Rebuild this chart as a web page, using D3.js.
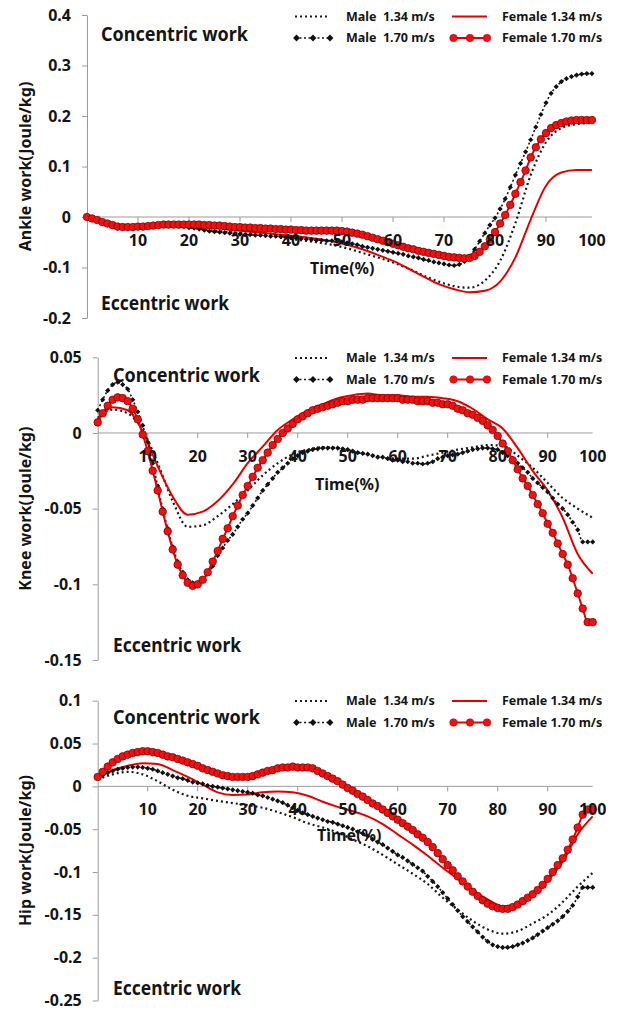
<!DOCTYPE html>
<html>
<head>
<meta charset="utf-8">
<script src="https://cdn.jsdelivr.net/npm/d3@7"></script>
<style>
    body { margin: 0; background: #fff; }
    text { font-family: "Noto Sans", "Open Sans", sans-serif; fill: #151515; }
</style>
</head>
<body>
<script>
const svgWidth = 617;
const svgHeight = 1010;

// categories: % of gait cycle (markers every 1 %, plain lines read every 3 %)
const time = d3.range(0, 100);
const timeCoarse = d3.range(0, 100, 3);

const xTickValues = [10, 20, 30, 40, 50, 60, 70, 80, 90];
const xTickLabels = [10, 20, 30, 40, 50, 60, 70, 80, 90, 100];

const seriesNames = ["Male  1.34 m/s", "Female 1.34 m/s", "Male  1.70 m/s", "Female 1.70 m/s"];

// ---------- ankle ----------
const ankleTicks = [0.4, 0.3, 0.2, 0.1, 0, -0.1, -0.2];
const ankleMale134 = [0, -0.009, -0.017, -0.019, -0.018, -0.018, -0.019, -0.022, -0.026, -0.029, -0.032, -0.035,
    -0.038, -0.042, -0.046, -0.050, -0.055, -0.062, -0.071, -0.080, -0.090, -0.102, -0.116, -0.128, -0.137,
    -0.140, -0.126, -0.087, -0.012, 0.083, 0.148, 0.176, 0.184, 0.186];
const ankleFemale134 = [0, -0.009, -0.017, -0.019, -0.017, -0.016, -0.017, -0.019, -0.021, -0.024, -0.027, -0.030,
    -0.033, -0.036, -0.039, -0.043, -0.048, -0.055, -0.064, -0.075, -0.087, -0.102, -0.118, -0.133, -0.143,
    -0.149, -0.146, -0.128, -0.080, -0.005, 0.062, 0.088, 0.093, 0.093];
const ankleMale170 = [
    0, -0.003, -0.006, -0.009, -0.012, -0.015, -0.017, -0.018, -0.019, -0.019,
    -0.019, -0.018, -0.018, -0.017, -0.017, -0.017, -0.017, -0.017, -0.018, -0.019,
    -0.021, -0.022, -0.024, -0.026, -0.028, -0.029, -0.030, -0.031, -0.032, -0.033,
    -0.034, -0.035, -0.035, -0.036, -0.036, -0.037, -0.038, -0.038, -0.039, -0.040,
    -0.041, -0.042, -0.043, -0.044, -0.045, -0.046, -0.046, -0.047, -0.047, -0.048,
    -0.049, -0.051, -0.053, -0.055, -0.058, -0.060, -0.062, -0.064, -0.066, -0.068,
    -0.070, -0.072, -0.074, -0.077, -0.079, -0.081, -0.084, -0.086, -0.089, -0.091,
    -0.093, -0.095, -0.096, -0.094, -0.088, -0.078, -0.064, -0.048, -0.032, -0.016,
    -0.002, 0.016, 0.036, 0.059, 0.083, 0.106, 0.129, 0.153, 0.178, 0.203,
    0.226, 0.245, 0.258, 0.268, 0.274, 0.278, 0.281, 0.283, 0.284, 0.284];
const ankleFemale170 = [
    0, -0.003, -0.006, -0.010, -0.013, -0.016, -0.019, -0.020, -0.020, -0.020,
    -0.019, -0.019, -0.018, -0.017, -0.016, -0.015, -0.015, -0.015, -0.015, -0.015,
    -0.015, -0.015, -0.015, -0.016, -0.016, -0.017, -0.017, -0.018, -0.019, -0.020,
    -0.020, -0.021, -0.021, -0.022, -0.022, -0.023, -0.023, -0.024, -0.024, -0.025,
    -0.025, -0.026, -0.026, -0.027, -0.027, -0.027, -0.027, -0.027, -0.027, -0.027,
    -0.028, -0.029, -0.031, -0.033, -0.035, -0.038, -0.041, -0.044, -0.047, -0.050,
    -0.053, -0.056, -0.059, -0.062, -0.064, -0.067, -0.069, -0.071, -0.073, -0.075,
    -0.077, -0.079, -0.080, -0.081, -0.082, -0.081, -0.077, -0.069, -0.058, -0.045,
    -0.030, -0.013, 0.004, 0.024, 0.046, 0.069, 0.092, 0.118, 0.138, 0.154,
    0.166, 0.176, 0.182, 0.186, 0.189, 0.191, 0.192, 0.192, 0.192, 0.192];

// ---------- knee ----------
const kneeTicks = [0.05, 0, -0.05, -0.1, -0.15];
const kneeMale134 = [0.010, 0.0155, 0.013, 0.002, -0.020, -0.045, -0.062, -0.061, -0.055, -0.047, -0.038, -0.028,
    -0.020, -0.014, -0.011, -0.0095, -0.010, -0.012, -0.014, -0.016, -0.017, -0.017, -0.015, -0.013, -0.011,
    -0.0095, -0.008, -0.0085, -0.015, -0.023, -0.033, -0.043, -0.050, -0.056];
const kneeFemale134 = [0.009, 0.017, 0.015, 0.001, -0.022, -0.042, -0.054, -0.052, -0.045, -0.034, -0.020, -0.009,
    0.002, 0.009, 0.015, 0.019, 0.023, 0.025, 0.026, 0.025, 0.025, 0.024, 0.024, 0.023, 0.021,
    0.016, 0.009, 0.003, -0.010, -0.025, -0.038, -0.056, -0.080, -0.093];
const kneeMale170 = [
    0.015, 0.022, 0.028, 0.032, 0.0335, 0.032, 0.029, 0.022, 0.014, 0.005,
    -0.006, -0.020, -0.035, -0.050, -0.063, -0.075, -0.085, -0.092, -0.097, -0.099,
    -0.099, -0.097, -0.093, -0.088, -0.081, -0.076, -0.071, -0.067, -0.062, -0.057,
    -0.053, -0.048, -0.043, -0.038, -0.034, -0.030, -0.026, -0.023, -0.020, -0.017,
    -0.015, -0.013, -0.012, -0.011, -0.0105, -0.010, -0.010, -0.010, -0.010, -0.0105,
    -0.011, -0.012, -0.013, -0.0135, -0.014, -0.015, -0.016, -0.016, -0.017, -0.018,
    -0.018, -0.019, -0.019, -0.020, -0.020, -0.0205, -0.020, -0.019, -0.017, -0.016,
    -0.015, -0.0145, -0.014, -0.013, -0.012, -0.011, -0.0105, -0.010, -0.010, -0.0105,
    -0.011, -0.013, -0.015, -0.017, -0.020, -0.023, -0.026, -0.030, -0.033, -0.036,
    -0.039, -0.043, -0.047, -0.050, -0.054, -0.059, -0.064, -0.072, -0.072, -0.072];
const kneeFemale170 = [
    0.007, 0.013, 0.018, 0.022, 0.0235, 0.023, 0.021, 0.016, 0.009, -0.001,
    -0.012, -0.025, -0.038, -0.052, -0.065, -0.077, -0.087, -0.094, -0.099, -0.101,
    -0.100, -0.097, -0.092, -0.085, -0.078, -0.070, -0.063, -0.055, -0.048, -0.041,
    -0.035, -0.029, -0.023, -0.018, -0.013, -0.008, -0.004, 0.000, 0.003, 0.006,
    0.009, 0.011, 0.013, 0.015, 0.016, 0.017, 0.018, 0.019, 0.020, 0.021,
    0.021, 0.022, 0.022, 0.022, 0.023, 0.023, 0.023, 0.023, 0.023, 0.023,
    0.023, 0.022, 0.022, 0.022, 0.021, 0.021, 0.021, 0.020, 0.020, 0.019,
    0.019, 0.018, 0.016, 0.015, 0.013, 0.012, 0.010, 0.008, 0.005, 0.002,
    -0.002, -0.007, -0.012, -0.018, -0.024, -0.030, -0.035, -0.041, -0.047, -0.053,
    -0.060, -0.066, -0.073, -0.080, -0.087, -0.096, -0.106, -0.116, -0.125, -0.125];

// ---------- hip ----------
const hipTicks = [0.1, 0.05, 0, -0.05, -0.1, -0.15, -0.2, -0.25];
const hipMale134 = [0.008, 0.014, 0.017, 0.014, 0.006, -0.004, -0.011, -0.014, -0.017, -0.0195, -0.022, -0.025,
    -0.030, -0.036, -0.043, -0.048, -0.054, -0.062, -0.070, -0.080, -0.091, -0.102, -0.114, -0.130, -0.144,
    -0.157, -0.167, -0.172, -0.169, -0.160, -0.150, -0.135, -0.117, -0.101];
const hipFemale134 = [0.010, 0.019, 0.024, 0.027, 0.026, 0.019, 0.011, 0.002, -0.007, -0.010, -0.0095, -0.007,
    -0.006, -0.007, -0.011, -0.018, -0.024, -0.029, -0.035, -0.044, -0.056, -0.068, -0.081, -0.095, -0.108,
    -0.121, -0.132, -0.140, -0.138, -0.127, -0.110, -0.088, -0.056, -0.035];
const hipMale170 = [
    0.010, 0.013, 0.016, 0.018, 0.020, 0.021, 0.022, 0.0225, 0.0225, 0.022,
    0.021, 0.020, 0.018, 0.016, 0.014, 0.012, 0.010, 0.009, 0.007, 0.005,
    0.004, 0.003, 0.001, 0.000, -0.001, -0.002, -0.003, -0.004, -0.005, -0.006,
    -0.007, -0.008, -0.010, -0.011, -0.013, -0.015, -0.017, -0.019, -0.022, -0.025,
    -0.028, -0.031, -0.033, -0.035, -0.037, -0.039, -0.041, -0.042, -0.044, -0.046,
    -0.048, -0.050, -0.053, -0.055, -0.058, -0.062, -0.065, -0.068, -0.072, -0.076,
    -0.080, -0.083, -0.087, -0.091, -0.095, -0.099, -0.105, -0.111, -0.117, -0.124,
    -0.131, -0.138, -0.145, -0.152, -0.158, -0.164, -0.170, -0.176, -0.181, -0.185,
    -0.187, -0.188, -0.188, -0.187, -0.185, -0.183, -0.180, -0.177, -0.173, -0.169,
    -0.165, -0.161, -0.157, -0.152, -0.146, -0.139, -0.129, -0.118, -0.118, -0.118];
const hipFemale170 = [
    0.011, 0.017, 0.023, 0.028, 0.032, 0.035, 0.037, 0.039, 0.040, 0.041,
    0.041, 0.040, 0.039, 0.037, 0.035, 0.034, 0.032, 0.030, 0.028, 0.026,
    0.024, 0.021, 0.019, 0.017, 0.015, 0.013, 0.012, 0.011, 0.011, 0.011,
    0.011, 0.012, 0.014, 0.016, 0.018, 0.019, 0.021, 0.022, 0.022, 0.023,
    0.022, 0.022, 0.022, 0.021, 0.018, 0.015, 0.012, 0.009, 0.006, 0.002,
    -0.002, -0.005, -0.009, -0.012, -0.016, -0.020, -0.023, -0.027, -0.031, -0.035,
    -0.039, -0.043, -0.047, -0.051, -0.056, -0.060, -0.065, -0.071, -0.078, -0.085,
    -0.092, -0.098, -0.105, -0.111, -0.117, -0.123, -0.128, -0.133, -0.137, -0.140,
    -0.142, -0.143, -0.143, -0.141, -0.138, -0.134, -0.130, -0.126, -0.121, -0.115,
    -0.108, -0.100, -0.092, -0.084, -0.074, -0.062, -0.048, -0.033, -0.027, -0.027];

// ---------- layout ----------
const axisColor = "#9b9b9b";
const red = "#e60000";

const seriesStyles = [
    {color: "#1a1a1a", dash: "2,3", width: 2.2, marker: null},
    {color: red, dash: null, width: 2, marker: null},
    {color: "#1a1a1a", dash: "2,2.5", width: 1.6, marker: "diamond"},
    {color: red, dash: null, width: 2, marker: "circle"}
];

const panels = [
    {label: "Ankle work(Joule/kg)", ticks: ankleTicks,
        series: [ankleMale134, ankleFemale134, ankleMale170, ankleFemale170],
        left: 87, right: 597, top: 15, bottom: 318,
        labelX: 25, textX: 101, conY: 41, eccY: 310, timeX: 310, timeY: 274, legendY: 16.5},
    {label: "Knee work(Joule/kg)", ticks: kneeTicks,
        series: [kneeMale134, kneeFemale134, kneeMale170, kneeFemale170],
        left: 97.7, right: 597.7, top: 357.3, bottom: 660,
        labelX: 25, textX: 113, conY: 382, eccY: 652, timeX: 315, timeY: 490, legendY: 358},
    {label: "Hip work(Joule/kg)", ticks: hipTicks,
        series: [hipMale134, hipFemale134, hipMale170, hipFemale170],
        left: 97.7, right: 597.7, top: 700.7, bottom: 1000.5,
        labelX: 25, textX: 113, conY: 724, eccY: 995, timeX: 317, timeY: 841, legendY: 701}
];

const svg = d3.select("body").append("svg").attr("width", svgWidth).attr("height", svgHeight);

svg.append("rect")
    .attr("width", "100%")
    .attr("height", "100%")
    .attr("fill", "#ffffff");

function diamondPath(r) {
    return "M0," + (-r) + "L" + r + ",0L0," + r + "L" + (-r) + ",0Z";
}

panels.forEach(function (p) {
    const g = svg.append("g");

    const x = d3.scaleLinear().domain([0, 100]).range([p.left, p.right]);
    const y = d3.scaleLinear().domain(d3.extent(p.ticks)).range([p.bottom, p.top]);

    // y axis
    const yAxis = g.append("g")
        .attr("transform", "translate(" + p.left + ",0)")
        .call(d3.axisLeft(y)
            .tickValues(p.ticks)
            .tickFormat(function (d) { return String(d); })
            .tickSize(5)
            .tickSizeOuter(0)
            .tickPadding(11));
    yAxis.select(".domain").attr("stroke", axisColor);
    yAxis.selectAll(".tick line").attr("stroke", axisColor);
    yAxis.selectAll(".tick text")
        .attr("font-family", null)
        .attr("font-size", 16)
        .attr("font-weight", "bold")
        .attr("fill", "#151515");

    // x axis on the zero line
    const y0 = y(0);
    g.append("line")
        .attr("x1", x(0)).attr("x2", x(99))
        .attr("y1", y0).attr("y2", y0)
        .attr("stroke", axisColor);
    g.selectAll(".xtick").data(xTickValues).join("line")
        .attr("class", "xtick")
        .attr("x1", function (d) { return x(d); })
        .attr("x2", function (d) { return x(d); })
        .attr("y1", y0).attr("y2", y0 + 5)
        .attr("stroke", axisColor);

    // series
    p.series.forEach(function (values, i) {
        const st = seriesStyles[i];
        const ts = values.length === time.length ? time : timeCoarse;
        const line = d3.line()
            .x(function (d, k) { return x(ts[k]); })
            .y(function (d) { return y(d); })
            .curve(d3.curveMonotoneX);

        g.append("path")
            .attr("d", line(values))
            .attr("fill", "none")
            .attr("stroke", st.color)
            .attr("stroke-width", st.width)
            .attr("stroke-dasharray", st.dash);

        if (st.marker === "diamond") {
            g.append("g").selectAll("path").data(values).join("path")
                .attr("transform", function (d, k) { return "translate(" + x(ts[k]) + "," + y(d) + ")"; })
                .attr("d", diamondPath(2.6))
                .attr("fill", "#111");
        } else if (st.marker === "circle") {
            g.append("g").selectAll("circle").data(values).join("circle")
                .attr("cx", function (d, k) { return x(ts[k]); })
                .attr("cy", function (d) { return y(d); })
                .attr("r", 3.8)
                .attr("fill", "#ee1111")
                .attr("stroke", "#7a0000")
                .attr("stroke-width", 0.7);
        }
    });

    // x tick labels (drawn after the series, like the original)
    g.selectAll(".xlabel").data(xTickLabels).join("text")
        .attr("class", "xlabel")
        .attr("x", function (d) { return x(Math.min(d, 99)); })
        .attr("y", y0 + 29)
        .attr("text-anchor", "middle")
        .attr("font-size", 16)
        .attr("font-weight", "bold")
        .text(function (d) { return d; });

    g.append("text")
        .attr("x", p.timeX)
        .attr("y", p.timeY)
        .attr("font-size", 16)
        .attr("font-weight", "bold")
        .text("Time(%)");

    // y title
    g.append("text")
        .attr("transform", "translate(" + p.labelX + "," + ((p.top + p.bottom) / 2) + ") rotate(-90)")
        .attr("text-anchor", "middle")
        .attr("dy", "0.35em")
        .attr("font-size", 16)
        .attr("font-weight", "bold")
        .text(p.label);

    g.append("text")
        .attr("x", p.textX).attr("y", p.conY)
        .attr("font-size", 19)
        .attr("font-weight", "bold")
        .attr("textLength", 147)
        .attr("lengthAdjust", "spacingAndGlyphs")
        .text("Concentric work");
    g.append("text")
        .attr("x", p.textX).attr("y", p.eccY)
        .attr("font-size", 19)
        .attr("font-weight", "bold")
        .attr("textLength", 128)
        .attr("lengthAdjust", "spacingAndGlyphs")
        .text("Eccentric work");

    // legend
    const sampleX = [295, 452];
    const textX = [346, 502];
    const rowGap = 21.5;
    seriesNames.forEach(function (name, i) {
        const st = seriesStyles[i];
        const col = i % 2;
        const row = Math.floor(i / 2);
        const ly = p.legendY + row * rowGap;
        const lx = sampleX[col];
        const lg = g.append("g");
        lg.append("line")
            .attr("x1", lx).attr("x2", lx + 35)
            .attr("y1", ly).attr("y2", ly)
            .attr("stroke", st.color)
            .attr("stroke-width", st.width)
            .attr("stroke-dasharray", st.dash);
        const pts = [lx + 1.5, lx + 18, lx + 35];
        if (st.marker === "diamond") {
            lg.selectAll("path").data(pts).join("path")
                .attr("transform", function (d) { return "translate(" + d + "," + ly + ")"; })
                .attr("d", diamondPath(3.4))
                .attr("fill", "#111");
        } else if (st.marker === "circle") {
            lg.selectAll("circle").data(pts).join("circle")
                .attr("cx", function (d) { return d; })
                .attr("cy", ly)
                .attr("r", 3.8)
                .attr("fill", "#ee1111")
                .attr("stroke", "#b00000")
                .attr("stroke-width", 0.5);
        }
        lg.append("text")
            .attr("x", textX[col]).attr("y", ly)
            .attr("dy", "0.35em")
            .attr("font-size", 12.5)
            .attr("font-weight", "bold")
            .style("white-space", "pre")
            .text(name);
    });
});
</script>
</body>
</html>
